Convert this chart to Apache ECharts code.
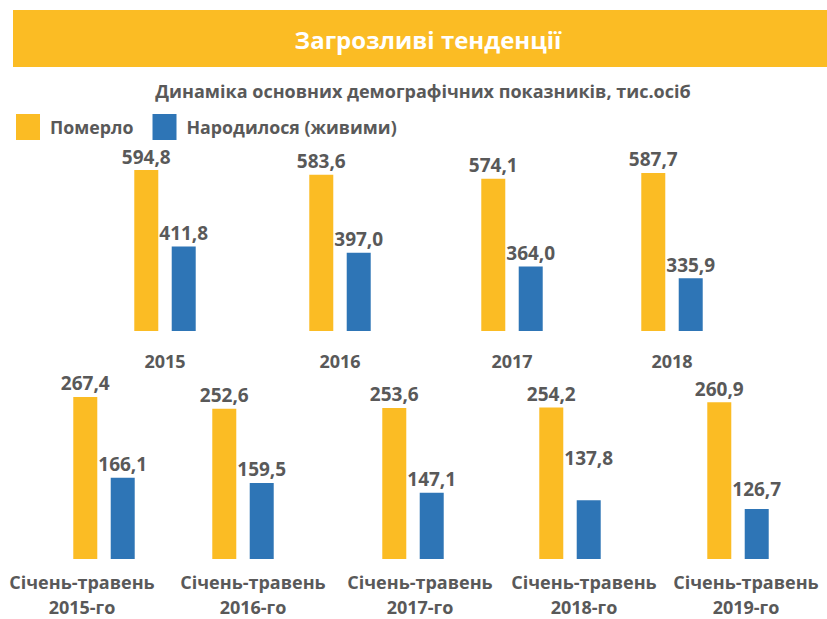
<!DOCTYPE html>
<html>
<head>
<meta charset="utf-8">
<script src="https://cdn.jsdelivr.net/npm/echarts@6/dist/echarts.min.js"></script>
<style>
  html, body { margin: 0; padding: 0; background: #ffffff; }
  #chart { width: 827px; height: 619px; }
</style>
</head>
<body>
<div id="chart"></div>
<script>
// ---- data ----
const titleText = 'Загрозливі тенденції';
const subtitleText = 'Динаміка основних демографічних показників, тис.осіб';
const seriesNames = ['Померло', 'Народилося (живими)'];

const years = ['2015', '2016', '2017', '2018'];
const diedYear = [594.8, 583.6, 574.1, 587.7];
const bornYear = [411.8, 397.0, 364.0, 335.9];

const periods = ['Січень-травень\n2015-го', 'Січень-травень\n2016-го', 'Січень-травень\n2017-го', 'Січень-травень\n2018-го', 'Січень-травень\n2019-го'];
const diedPeriod = [267.4, 252.6, 253.6, 254.2, 260.9];
const bornPeriod = [166.1, 159.5, 147.1, 137.8, 126.7];

// ---- styles / layout ----
const YELLOW = '#FBBC24';
const BLUE = '#2E75B6';
const GRAY = '#595959';
const FONT = '"Open Sans", "DejaVu Sans", sans-serif';

const topCenters = [165, 340, 512, 672];
const bottomCenters = [104, 243, 413, 570, 738];
const bottomLabelShift = [-22, 10, 7, 14, 8];
const bottomBornLabelLift = [0, 0, 0, 29, 7];

const rows = [
  { cats: years, died: diedYear, born: bornYear, centers: topCenters, top: 126, height: 205, min: 210, max: 700, margin: 17, shift: null, lift: null },
  { cats: periods, died: diedPeriod, born: bornPeriod, centers: bottomCenters, top: 371, height: 188, min: 64, max: 300, margin: 10, shift: bottomLabelShift, lift: bottomBornLabelLift }
];

const fmt = v => v.toFixed(1).replace('.', ',');

const grids = [], xAxes = [], yAxes = [], series = [];
let idx = 0;
rows.forEach(row => {
  row.cats.forEach((cat, i) => {
    const c = row.centers[i];
    grids.push({ left: c - 40, width: 80, top: row.top, height: row.height });
    const sh = row.shift ? row.shift[i] : 0;
    xAxes.push({
      gridIndex: idx, type: 'category', data: [cat],
      axisLine: { show: false }, axisTick: { show: false }, splitLine: { show: false },
      axisLabel: {
        margin: row.margin, interval: 0,
        color: GRAY, fontFamily: FONT, fontWeight: 'bold', fontSize: 18, lineHeight: 25,
        padding: sh < 0 ? [0, -2 * sh, 0, 0] : [0, 0, 0, 2 * sh]
      }
    });
    yAxes.push({ gridIndex: idx, type: 'value', min: row.min, max: row.max, show: false, splitLine: { show: false } });
    const labelBase = {
      show: true, position: 'top', distance: 4,
      color: GRAY, fontFamily: FONT, fontWeight: 'bold', fontSize: 19,
      formatter: p => fmt(p.value)
    };
    series.push({
      name: seriesNames[0], type: 'bar', xAxisIndex: idx, yAxisIndex: idx,
      barWidth: 24, barGap: '56%',
      itemStyle: { color: YELLOW },
      label: labelBase,
      data: [row.died[i]]
    });
    const lift = row.lift ? row.lift[i] : 0;
    series.push({
      name: seriesNames[1], type: 'bar', xAxisIndex: idx, yAxisIndex: idx,
      barWidth: 24, barGap: '56%',
      itemStyle: { color: BLUE },
      label: Object.assign({}, labelBase, { offset: [0, -lift] }),
      data: [row.born[i]]
    });
    idx++;
  });
});

const chart = echarts.init(document.getElementById('chart'), null, { renderer: 'svg' });
chart.setOption({
  backgroundColor: '#ffffff',
  animation: false,
  graphic: [
    { type: 'rect', left: 13, top: 10, shape: { width: 814, height: 57 }, style: { fill: YELLOW }, z: -1 }
  ],
  title: [
    { text: titleText, left: 423, top: 22, textAlign: 'center',
      textStyle: { color: '#ffffff', fontFamily: FONT, fontWeight: 'bold', fontSize: 24 } },
    { text: subtitleText, left: 418, top: 77, textAlign: 'center',
      textStyle: { color: GRAY, fontFamily: FONT, fontWeight: 'bold', fontSize: 18 } }
  ],
  legend: {
    data: seriesNames, left: 11, top: 109, icon: 'rect',
    itemWidth: 24, itemHeight: 26, itemGap: 19,
    textStyle: { color: GRAY, fontFamily: FONT, fontWeight: 'bold', fontSize: 17.8, padding: [0, 0, 0, 5] }
  },
  grid: grids,
  xAxis: xAxes,
  yAxis: yAxes,
  series: series
});
</script>
</body>
</html>
